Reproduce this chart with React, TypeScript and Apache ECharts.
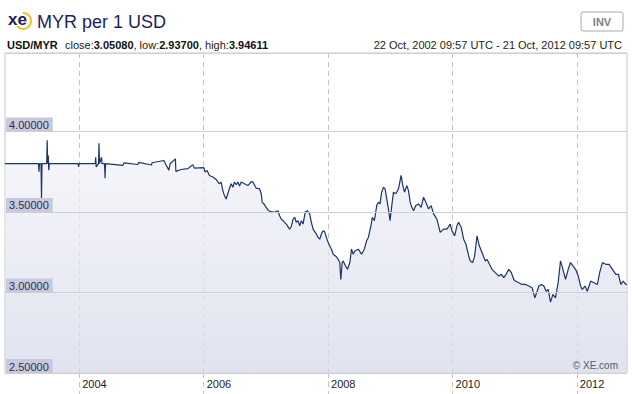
import React, { useEffect, useRef } from "react";
import * as echarts from "echarts";

// Dates as decimal years, rates in MYR per USD
const years: number[] = [
  2002.806, 2003.345, 2003.353, 2003.361, 2003.386, 2003.394, 2003.402,
  2003.477, 2003.485, 2003.493, 2003.503, 2003.511, 2003.52,
  2003.982, 2003.99, 2003.998, 2004.257, 2004.265, 2004.273,
  2004.31, 2004.318, 2004.326, 2004.358, 2004.366, 2004.407,
  2004.415, 2004.423, 2004.7, 2004.72, 2004.94, 2004.955,
  2005.16, 2005.17, 2005.36, 2005.385, 2005.44, 2005.46,
  2005.545, 2005.553, 2005.635, 2005.744, 2005.824, 2005.85,
  2006.002, 2006.023, 2006.055, 2006.092, 2006.147, 2006.2,
  2006.253, 2006.281, 2006.308, 2006.334, 2006.361, 2006.388,
  2006.415, 2006.442, 2006.469, 2006.495, 2006.523, 2006.55,
  2006.576, 2006.603, 2006.656, 2006.711, 2006.765, 2006.792,
  2006.845, 2006.898, 2006.926, 2006.942, 2006.969, 2007.006,
  2007.044, 2007.087, 2007.14, 2007.195, 2007.221, 2007.248,
  2007.276, 2007.329, 2007.382, 2007.41, 2007.437, 2007.463,
  2007.49, 2007.518, 2007.544, 2007.571, 2007.598, 2007.635,
  2007.668, 2007.705, 2007.732, 2007.76, 2007.813, 2007.84,
  2007.866, 2007.894, 2007.921, 2007.947, 2007.974, 2008.002,
  2008.027, 2008.055, 2008.082, 2008.135, 2008.163, 2008.189,
  2008.205, 2008.227, 2008.244, 2008.281, 2008.313, 2008.35,
  2008.377, 2008.405, 2008.431, 2008.485, 2008.539, 2008.582,
  2008.619, 2008.647, 2008.689, 2008.711, 2008.744, 2008.781,
  2008.808, 2008.834, 2008.861, 2008.889, 2008.915, 2008.942,
  2008.969, 2008.995, 2009.023, 2009.05, 2009.087, 2009.131,
  2009.173, 2009.2, 2009.227, 2009.265, 2009.292, 2009.318,
  2009.345, 2009.373, 2009.41, 2009.453, 2009.495, 2009.534,
  2009.571, 2009.615, 2009.656, 2009.695, 2009.748, 2009.802,
  2009.856, 2009.91, 2009.963, 2009.99, 2010.034, 2010.071,
  2010.098, 2010.14, 2010.179, 2010.216, 2010.26, 2010.285,
  2010.324, 2010.356, 2010.394, 2010.431, 2010.474, 2010.527,
  2010.555, 2010.608, 2010.635, 2010.689, 2010.744, 2010.786,
  2010.824, 2010.861, 2010.905, 2010.947, 2010.985, 2011.011,
  2011.066, 2011.119, 2011.173, 2011.227, 2011.281, 2011.324,
  2011.361, 2011.389, 2011.431, 2011.469, 2011.506, 2011.539,
  2011.576, 2011.615, 2011.656, 2011.699, 2011.737, 2011.776,
  2011.818, 2011.861, 2011.898, 2011.937, 2011.979, 2012.023,
  2012.06, 2012.087, 2012.131, 2012.168, 2012.221, 2012.276,
  2012.329, 2012.366, 2012.41, 2012.463, 2012.518, 2012.571,
  2012.625, 2012.667, 2012.705, 2012.744, 2012.785, 2012.803,
];

const rates: number[] = [
  3.8, 3.8, 3.75, 3.8, 3.8, 3.586, 3.8,
  3.8, 3.946, 3.8, 3.85, 3.76, 3.8,
  3.8, 3.78, 3.8, 3.8, 3.84, 3.78,
  3.8, 3.927, 3.8, 3.84, 3.8, 3.8,
  3.71, 3.8, 3.79, 3.805, 3.795, 3.808,
  3.792, 3.806, 3.82, 3.8, 3.76, 3.8,
  3.83, 3.752, 3.764, 3.769, 3.794, 3.773,
  3.775, 3.748, 3.758, 3.727, 3.717, 3.702,
  3.675, 3.686, 3.633, 3.602, 3.581, 3.613,
  3.648, 3.675, 3.654, 3.686, 3.669, 3.686,
  3.661, 3.686, 3.675, 3.664, 3.689, 3.686,
  3.648, 3.644, 3.613, 3.56, 3.55, 3.529,
  3.508, 3.502, 3.498, 3.508, 3.477, 3.456,
  3.446, 3.425, 3.394, 3.41, 3.456, 3.467,
  3.436, 3.446, 3.414, 3.446, 3.425, 3.502,
  3.508, 3.488, 3.436, 3.394, 3.363, 3.342,
  3.331, 3.363, 3.383, 3.377, 3.342, 3.311,
  3.29, 3.269, 3.238, 3.222, 3.206, 3.186,
  3.081, 3.186, 3.196, 3.165, 3.144, 3.186,
  3.269, 3.238, 3.258, 3.269, 3.238, 3.269,
  3.321, 3.342, 3.414, 3.467, 3.446, 3.54,
  3.561, 3.55, 3.623, 3.654, 3.644, 3.581,
  3.519, 3.446, 3.54, 3.623, 3.613, 3.644,
  3.727, 3.664, 3.623, 3.664, 3.633, 3.561,
  3.529, 3.508, 3.54, 3.55, 3.529, 3.592,
  3.561, 3.519, 3.54, 3.488, 3.456, 3.373,
  3.394, 3.394, 3.425, 3.383, 3.352, 3.414,
  3.436, 3.404, 3.331, 3.3, 3.227, 3.196,
  3.186, 3.227, 3.352, 3.29, 3.248, 3.196,
  3.206, 3.165, 3.144, 3.123, 3.102, 3.113,
  3.092, 3.113, 3.144, 3.123, 3.081, 3.071,
  3.061, 3.05, 3.05, 3.04, 3.029, 2.967,
  3.008, 3.04, 3.05, 3.04, 3.008, 3.019,
  2.94, 2.988, 2.967, 3.061, 3.196, 3.144,
  3.081, 3.144, 3.186, 3.165, 3.144, 3.102,
  3.04, 3.019, 3.04, 3.008, 3.071, 3.061,
  3.05, 3.123, 3.186, 3.175, 3.175, 3.144,
  3.113, 3.113, 3.05, 3.071, 3.05, 3.0508,
];

const tickYears: number[] = [2004, 2006, 2008, 2010, 2012];
const rangeStart = Date.UTC(2002, 9, 22, 9, 57);
const rangeEnd = Date.UTC(2012, 9, 21, 9, 57);
const titleText = "MYR per 1 USD";
const pairText = "USD/MYR";
const statsRich = "close:{b|3.05080}, low:{b|2.93700}, high:{b|3.94611}";
const periodText = "22 Oct, 2002 09:57 UTC - 21 Oct, 2012 09:57 UTC";

const FONT = "'Liberation Sans', Arial, sans-serif";

function yearToTs(y: number): number {
  const base = Math.floor(y);
  const s = Date.UTC(base, 0, 1);
  const e = Date.UTC(base + 1, 0, 1);
  return s + (y - base) * (e - s);
}

export default function App() {
  const ref = useRef<HTMLDivElement>(null);
  useEffect(() => {
    if (!ref.current) return;
    const chart = echarts.init(ref.current, undefined, { renderer: "svg" });
    const yearTicks = tickYears.map((y) => Date.UTC(y, 0, 1));
    chart.setOption({
      animation: false,
      backgroundColor: "#ffffff",
      textStyle: { fontFamily: FONT },
      grid: {
        left: 5,
        top: 53,
        width: 622,
        height: 320,
        show: true,
        borderColor: "#c6c6cc",
        borderWidth: 1,
        backgroundColor: "#ffffff",
      },
      xAxis: {
        type: "value",
        min: rangeStart,
        max: rangeEnd,
        axisLine: { show: false },
        axisTick: {
          show: true,
          length: 22,
          customValues: yearTicks,
          lineStyle: { color: "#c4c4c4", type: [5, 4], width: 1 },
        },
        axisLabel: {
          customValues: yearTicks,
          formatter: (v: number) => String(new Date(v).getUTCFullYear()),
          align: "left",
          padding: [0, 0, 0, 3],
          margin: 5,
          fontSize: 11,
          color: "#222222",
          fontFamily: FONT,
        },
        splitLine: {
          show: true,
          lineStyle: { color: "#c4c4c4", type: [5, 4], width: 1 },
        },
      },
      yAxis: {
        type: "value",
        min: 2.5,
        max: 4.4875,
        interval: 0.5,
        z: 10,
        axisLine: { show: false },
        axisTick: { show: false },
        axisLabel: {
          inside: true,
          showMaxLabel: false,
          formatter: (v: number) => v.toFixed(5),
          color: "#2a2e5c",
          fontSize: 11,
          fontFamily: FONT,
          backgroundColor: "#c8cadb",
          padding: [2, 4, 1, 3],
          verticalAlign: "bottom",
          margin: 1,
        },
        splitLine: { show: true, lineStyle: { color: "#cfcfd4", width: 1 } },
      },
      series: [
        {
          type: "line",
          showSymbol: false,
          data: years.map((y, i) => [yearToTs(y), rates[i]]),
          lineStyle: { color: "#1b3566", width: 1.2 },
          areaStyle: {
            origin: "start",
            opacity: 0.75,
            color: new echarts.graphic.LinearGradient(0, 0, 0, 1, [
              { offset: 0, color: "#f4f5fa" },
              { offset: 1, color: "#d6d9ea" },
            ]),
          },
          z: 3,
        },
      ],
      graphic: [
        {
          type: "text",
          left: 8,
          top: 11,
          style: { text: "xe", font: `bold 17px ${FONT}`, fill: "#1c2060" },
        },
        {
          type: "arc",
          shape: { cx: 23, cy: 21, r: 8, startAngle: -1.6, endAngle: 2.4 },
          style: { stroke: "#f0c020", lineWidth: 2, fill: "none" },
        },
        {
          type: "text",
          x: 37,
          y: 22,
          style: {
            text: titleText,
            font: `18px ${FONT}`,
            fill: "#1c1f5c",
            verticalAlign: "middle",
          },
        },
        {
          type: "rect",
          shape: { x: 581, y: 12, width: 42, height: 19, r: 2 },
          style: { fill: "#ffffff", stroke: "#aaaaaa", lineWidth: 1 },
        },
        {
          type: "text",
          x: 602,
          y: 22,
          style: {
            text: "INV",
            font: `bold 11px ${FONT}`,
            fill: "#808080",
            align: "center",
            verticalAlign: "middle",
          },
        },
        {
          type: "text",
          x: 7,
          y: 45,
          style: {
            text: pairText,
            font: `bold 11px ${FONT}`,
            fill: "#111111",
            verticalAlign: "middle",
          },
        },
        {
          type: "text",
          x: 65,
          y: 45,
          style: {
            text: statsRich,
            font: `11px ${FONT}`,
            fill: "#222222",
            verticalAlign: "middle",
            rich: {
              b: { fontWeight: "bold", fontSize: 11, fontFamily: FONT, fill: "#111111" },
            },
          },
        },
        {
          type: "text",
          x: 622,
          y: 45,
          style: {
            text: periodText,
            font: `11px ${FONT}`,
            fill: "#222222",
            align: "right",
            verticalAlign: "middle",
          },
        },
        {
          type: "text",
          x: 618,
          y: 365,
          z: 10,
          style: {
            text: "© XE.com",
            font: `10px ${FONT}`,
            fill: "#555a70",
            align: "right",
            verticalAlign: "middle",
          },
        },
      ],
    });
    return () => chart.dispose();
  }, []);
  return (
    <div
      ref={ref}
      style={{ position: "absolute", left: 0, top: 0, width: 632, height: 394 }}
    />
  );
}
